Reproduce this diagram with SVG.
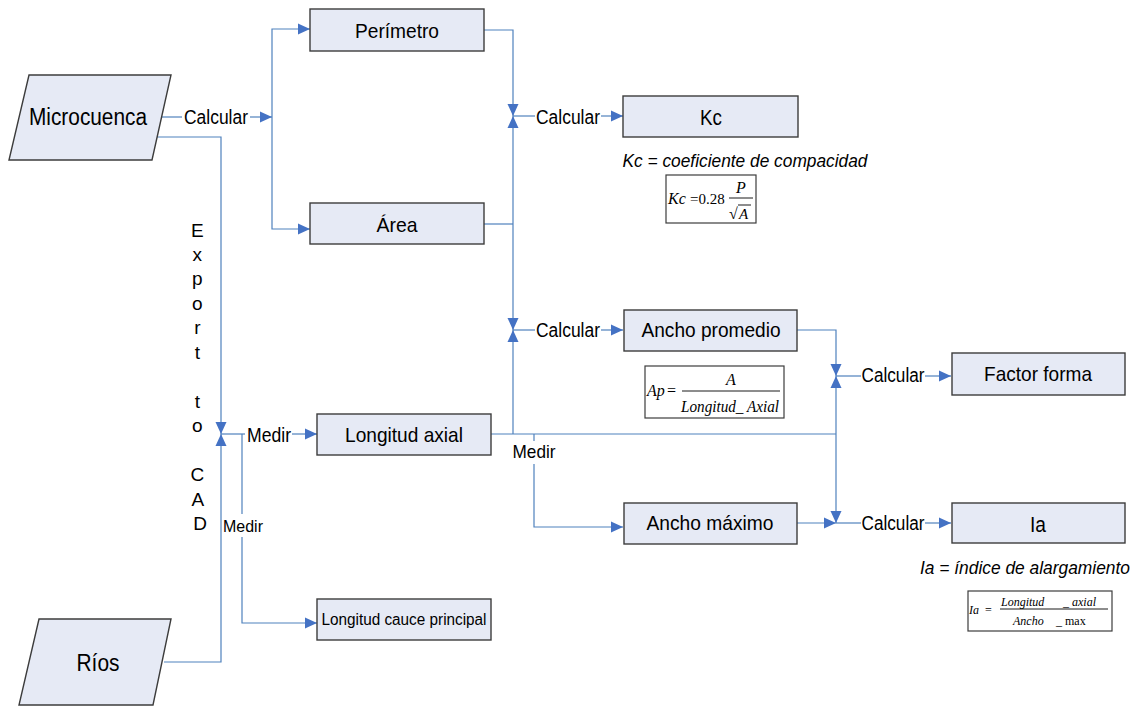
<svg xmlns="http://www.w3.org/2000/svg" width="1136" height="706" viewBox="0 0 1136 706">
  <style>
    .box { fill: #e6eaf5; stroke: #3c3c3c; stroke-width: 1.4; }
    .lbl { font-family: "Liberation Sans", Arial, sans-serif; fill: #000; text-anchor: middle; }
    .conn { fill: none; stroke: #4f81bd; stroke-width: 1.2; }
    .eq { font-family: "Liberation Serif", "Times New Roman", serif; fill: #000; font-style: italic; }
    .eq.rm { font-style: normal; }
    .eqbox { fill: #fff; stroke: #3c3c3c; stroke-width: 1.2; }
    .frac { stroke: #000; stroke-width: 0.9; }
  </style>
  <defs>
    <marker id="arrow" markerUnits="userSpaceOnUse" markerWidth="13" markerHeight="12" refX="12" refY="6" orient="auto">
      <path d="M0,0.5 L12,6 L0,11.5 z" fill="#4472c4"/>
    </marker>
  </defs>
  <rect width="1136" height="706" fill="#fff"/>

  <g id="connectors">
    <!-- Microcuenca to Perímetro / Área -->
    <path class="conn" d="M160,117 H182"/>
    <path class="conn" d="M250,117 H272" marker-end="url(#arrow)"/>
    <path class="conn" d="M272,117 V29 H310" marker-end="url(#arrow)"/>
    <path class="conn" d="M272,117 V229 H310" marker-end="url(#arrow)"/>
    <!-- Perímetro + Área to Kc -->
    <path class="conn" d="M484,30 H513 V116" marker-end="url(#arrow)"/>
    <path class="conn" d="M484,224 H513"/>
    <path class="conn" d="M513,224 V116" marker-end="url(#arrow)"/>
    <path class="conn" d="M513,116 H535"/>
    <path class="conn" d="M601,116 H623" marker-end="url(#arrow)"/>
    <!-- Área + Longitud axial to Ancho promedio -->
    <path class="conn" d="M513,224 V330" marker-end="url(#arrow)"/>
    <path class="conn" d="M513,434 V330" marker-end="url(#arrow)"/>
    <path class="conn" d="M513,330 H535"/>
    <path class="conn" d="M601,330 H623" marker-end="url(#arrow)"/>
    <!-- Longitud axial trunk -->
    <path class="conn" d="M491,434 H836"/>
    <!-- Ancho promedio + Longitud axial to Factor forma -->
    <path class="conn" d="M797,330 H836 V376" marker-end="url(#arrow)"/>
    <path class="conn" d="M836,434 V376" marker-end="url(#arrow)"/>
    <path class="conn" d="M836,376 H861"/>
    <path class="conn" d="M925,376 H951" marker-end="url(#arrow)"/>
    <!-- Longitud axial + Ancho máximo to Ia -->
    <path class="conn" d="M836,434 V523" marker-end="url(#arrow)"/>
    <path class="conn" d="M797,523 H836" marker-end="url(#arrow)"/>
    <path class="conn" d="M836,523 H861"/>
    <path class="conn" d="M925,523 H951" marker-end="url(#arrow)"/>
    <!-- Medir to Ancho máximo -->
    <path class="conn" d="M534,434 V441"/>
    <path class="conn" d="M534,464 V527 H623" marker-end="url(#arrow)"/>
    <!-- Export to CAD from Microcuenca and Ríos -->
    <path class="conn" d="M157,137 H221 V434" marker-end="url(#arrow)"/>
    <path class="conn" d="M164,662 H221 V434" marker-end="url(#arrow)"/>
    <path class="conn" d="M221,434 H245"/>
    <path class="conn" d="M292,434 H317" marker-end="url(#arrow)"/>
    <!-- Medir to Longitud cauce principal -->
    <path class="conn" d="M242,434 V514"/>
    <path class="conn" d="M242,537 V623 H317" marker-end="url(#arrow)"/>
  </g>

  <!-- connector labels -->
  <g id="connector-labels">
    <text class="lbl" x="216" y="124" font-size="20" textLength="64" lengthAdjust="spacingAndGlyphs">Calcular</text>
    <text class="lbl" x="568" y="124" font-size="20" textLength="64" lengthAdjust="spacingAndGlyphs">Calcular</text>
    <text class="lbl" x="568" y="337" font-size="20" textLength="64" lengthAdjust="spacingAndGlyphs">Calcular</text>
    <text class="lbl" x="893" y="382" font-size="20" textLength="63" lengthAdjust="spacingAndGlyphs">Calcular</text>
    <text class="lbl" x="893" y="530" font-size="20" textLength="63" lengthAdjust="spacingAndGlyphs">Calcular</text>
    <text class="lbl" x="269" y="442" font-size="20" textLength="44" lengthAdjust="spacingAndGlyphs">Medir</text>
    <text class="lbl" x="243" y="532" font-size="17" textLength="40" lengthAdjust="spacingAndGlyphs">Medir</text>
    <text class="lbl" x="534" y="458" font-size="19" textLength="43" lengthAdjust="spacingAndGlyphs">Medir</text>
    <text class="lbl" font-size="19">
      <tspan x="200" y="237">E</tspan>
      <tspan x="200" y="261">x</tspan>
      <tspan x="200" y="285">p</tspan>
      <tspan x="200" y="310">o</tspan>
      <tspan x="200" y="334">r</tspan>
      <tspan x="200" y="359">t</tspan>
      <tspan x="200" y="408">t</tspan>
      <tspan x="200" y="432">o</tspan>
      <tspan x="200" y="481">C</tspan>
      <tspan x="200" y="506">A</tspan>
      <tspan x="200" y="530">D</tspan>
    </text>
  </g>

  <g id="microcuenca">
    <polygon class="box" points="29,75 171,75 152,160 9,160"/>
    <text class="lbl" x="88" y="125" font-size="23" textLength="118" lengthAdjust="spacingAndGlyphs">Microcuenca</text>
  </g>
  <g id="rios">
    <polygon class="box" points="39,619 171,619 153,705 19,705"/>
    <text class="lbl" x="98" y="671" font-size="23" textLength="43" lengthAdjust="spacingAndGlyphs">Ríos</text>
  </g>
  <g id="perimetro">
    <rect class="box" x="310" y="9" width="174" height="42"/>
    <text class="lbl" x="397" y="38" font-size="21" textLength="84" lengthAdjust="spacingAndGlyphs">Perímetro</text>
  </g>
  <g id="area">
    <rect class="box" x="310" y="203" width="174" height="41"/>
    <text class="lbl" x="397" y="232" font-size="21" textLength="41" lengthAdjust="spacingAndGlyphs">Área</text>
  </g>
  <g id="kc">
    <rect class="box" x="623" y="96" width="175" height="41"/>
    <text class="lbl" x="711" y="125" font-size="22" textLength="22" lengthAdjust="spacingAndGlyphs">Kc</text>
    <text class="lbl" x="745" y="167" font-size="18" font-style="italic" textLength="245" lengthAdjust="spacingAndGlyphs">Kc = coeficiente de compacidad</text>
    <g id="kc-formula">
      <rect class="eqbox" x="666" y="175" width="90" height="48"/>
      <text class="eq" x="668" y="204" font-size="16">Kc</text>
      <text class="eq rm" x="690" y="204" font-size="15">=0.28</text>
      <text class="eq" x="741" y="193" font-size="16" text-anchor="middle">P</text>
      <line class="frac" x1="729" y1="198" x2="753" y2="198"/>
      <text class="eq rm" x="729" y="219" font-size="16">√</text>
      <line class="frac" x1="738" y1="205" x2="751" y2="205" stroke-width="0.8"/>
      <text class="eq" x="739" y="219" font-size="15">A</text>
    </g>
  </g>
  <g id="ancho-promedio">
    <rect class="box" x="624" y="310" width="173" height="41"/>
    <text class="lbl" x="711" y="337" font-size="21" textLength="139" lengthAdjust="spacingAndGlyphs">Ancho promedio</text>
    <g id="ap-formula">
      <rect class="eqbox" x="645" y="366" width="139" height="52"/>
      <text class="eq" x="647" y="396" font-size="16">Ap</text>
      <text class="eq rm" x="667" y="396" font-size="16">=</text>
      <text class="eq" x="731" y="385" font-size="16" text-anchor="middle">A</text>
      <line class="frac" x1="682" y1="391" x2="780" y2="391"/>
      <text class="eq" x="730" y="412" font-size="16" text-anchor="middle" textLength="98" lengthAdjust="spacingAndGlyphs">Longitud_ Axial</text>
    </g>
  </g>
  <g id="factor-forma">
    <rect class="box" x="952" y="353" width="173" height="42"/>
    <text class="lbl" x="1038" y="381" font-size="21" textLength="108" lengthAdjust="spacingAndGlyphs">Factor forma</text>
  </g>
  <g id="longitud-axial">
    <rect class="box" x="317" y="414" width="174" height="41"/>
    <text class="lbl" x="404" y="442" font-size="21" textLength="118" lengthAdjust="spacingAndGlyphs">Longitud axial</text>
  </g>
  <g id="ancho-maximo">
    <rect class="box" x="624" y="503" width="173" height="41"/>
    <text class="lbl" x="710" y="530" font-size="21" textLength="127" lengthAdjust="spacingAndGlyphs">Ancho máximo</text>
  </g>
  <g id="ia">
    <rect class="box" x="952" y="503" width="173" height="40"/>
    <text class="lbl" x="1038" y="532" font-size="22" textLength="16" lengthAdjust="spacingAndGlyphs">Ia</text>
    <text class="lbl" x="1025" y="574" font-size="18" font-style="italic" textLength="210" lengthAdjust="spacingAndGlyphs">Ia = índice de alargamiento</text>
    <g id="ia-formula">
      <rect class="eqbox" x="968" y="591" width="144" height="40"/>
      <text class="eq" x="969" y="614" font-size="12">Ia</text>
      <text class="eq rm" x="985" y="614" font-size="12">=</text>
      <text class="eq" x="1001" y="606" font-size="12">Longitud</text>
      <text class="eq" x="1063" y="606" font-size="12">_ axial</text>
      <line class="frac" x1="1000" y1="609" x2="1108" y2="609" stroke-width="0.8"/>
      <text class="eq" x="1013" y="625" font-size="12">Ancho</text>
      <text class="eq rm" x="1056" y="625" font-size="12">_ max</text>
    </g>
  </g>
  <g id="longitud-cauce">
    <rect class="box" x="317" y="599" width="174" height="41"/>
    <text class="lbl" x="404" y="625" font-size="16" textLength="165" lengthAdjust="spacingAndGlyphs">Longitud cauce principal</text>
  </g>
</svg>
